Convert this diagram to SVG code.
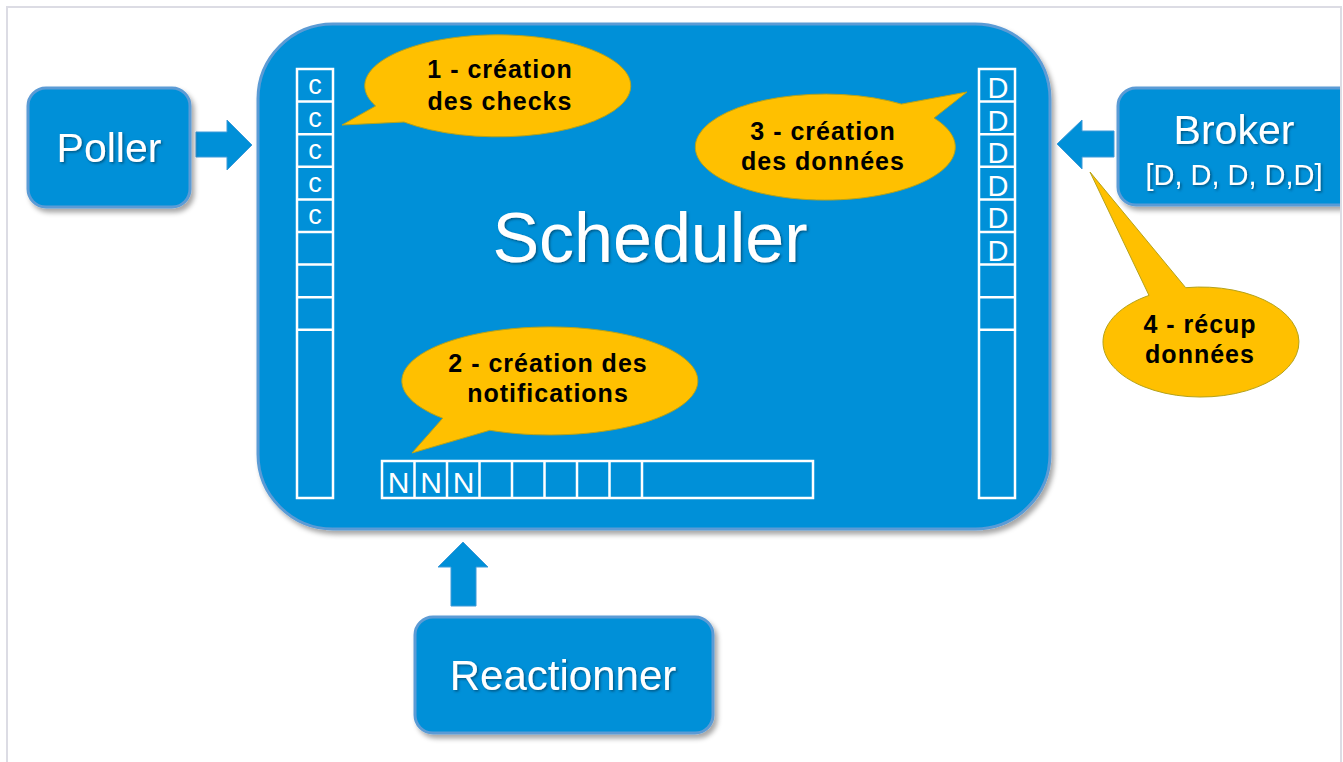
<svg xmlns="http://www.w3.org/2000/svg" width="1343" height="762" viewBox="0 0 1343 762">
<style>
.box{fill:#0090d8;stroke:#5b9bd5;stroke-width:3}
.lbl{font-family:"Liberation Sans",Arial,sans-serif;fill:#fff;text-anchor:middle}
.cell{fill:none;stroke:#fff;stroke-width:2.5}
.cl{font-family:"Liberation Sans",Arial,sans-serif;fill:#fff;text-anchor:middle}
.bub{fill:#ffc000;stroke:#b5a21a;stroke-width:1}
.bt{font-family:"Liberation Sans",Arial,sans-serif;font-weight:bold;font-size:25px;letter-spacing:1px;fill:#000;text-anchor:middle}
.arrow{fill:#0090d8;stroke:#3f9ad8;stroke-width:1}
</style>
<defs>
<filter id="sh" x="-10%" y="-10%" width="130%" height="130%">
<feDropShadow dx="3" dy="4" stdDeviation="2.5" flood-color="#000" flood-opacity="0.35"/>
</filter>
<filter id="tsh" x="-10%" y="-20%" width="130%" height="150%">
<feDropShadow dx="1.5" dy="1.5" stdDeviation="1" flood-color="#003050" flood-opacity="0.6"/>
</filter>
<clipPath id="frameclip"><rect x="0" y="0" width="1340" height="762"/></clipPath>
</defs>
<rect x="0" y="0" width="1343" height="762" fill="#fff"/>
<rect x="7" y="7" width="1334" height="770" fill="#fff" stroke="#dcdce4" stroke-width="2"/>

<g id="scheduler">
<rect class="box" x="258" y="24" width="792" height="505" rx="75" ry="75" filter="url(#sh)"/>
<text class="lbl" x="650" y="262" font-size="70" filter="url(#tsh)">Scheduler</text>
<g id="checks-queue">
<rect class="cell" x="297" y="69" width="36" height="429"/>
<path class="cell" d="M297 101.6H333M297 134.2H333M297 166.8H333M297 199.4H333M297 232H333M297 264.6H333M297 297.2H333M297 329.8H333"/>
<g class="cl" font-size="27">
<text x="315" y="94">c</text>
<text x="315" y="126.6">c</text>
<text x="315" y="159.2">c</text>
<text x="315" y="191.8">c</text>
<text x="315" y="224.4">c</text>
</g>
</g>
<g id="data-queue">
<rect class="cell" x="979" y="69" width="36" height="429"/>
<path class="cell" d="M979 101.6H1015M979 134.2H1015M979 166.8H1015M979 199.4H1015M979 232H1015M979 264.6H1015M979 297.2H1015M979 329.8H1015"/>
<g class="cl" font-size="29">
<text x="998" y="98">D</text>
<text x="998" y="130.6">D</text>
<text x="998" y="163.2">D</text>
<text x="998" y="195.8">D</text>
<text x="998" y="228.4">D</text>
<text x="998" y="261">D</text>
</g>
</g>
<g id="notif-queue">
<rect class="cell" x="382" y="461" width="431" height="37"/>
<path class="cell" d="M414.5 461V498M447 461V498M479.5 461V498M512 461V498M544.5 461V498M577 461V498M609.5 461V498M642 461V498"/>
<g class="cl" font-size="30">
<text x="398.5" y="493">N</text>
<text x="431" y="493">N</text>
<text x="463.5" y="493">N</text>
</g>
</g>
</g>

<g id="connectors">
<polygon class="arrow" points="196,132 227,132 227,120 252,145 227,170 227,157 196,157"/>
<polygon class="arrow" points="1114,131 1082,131 1082,120 1057,144 1082,169 1082,157 1114,157"/>
<polygon class="arrow" points="451,606 451,567 438,567 463,542 488,567 476,567 476,606"/>
</g>

<g id="poller">
<rect class="box" x="28" y="88" width="162" height="119" rx="18" filter="url(#sh)"/>
<text class="lbl" x="109" y="162" font-size="41" filter="url(#tsh)">Poller</text>
</g>

<g id="broker" clip-path="url(#frameclip)">
<rect class="box" x="1118" y="88" width="240" height="117" rx="18" filter="url(#sh)"/>
<text class="lbl" x="1234" y="144" font-size="41" filter="url(#tsh)">Broker</text>
<text class="lbl" x="1234" y="185" font-size="29" filter="url(#tsh)">[D, D, D, D,D]</text>
</g>

<g id="reactionner">
<rect class="box" x="415" y="617" width="298" height="116" rx="18" filter="url(#sh)"/>
<text class="lbl" x="563" y="690" font-size="42" filter="url(#tsh)">Reactionner</text>
</g>

<g id="bubble-1">
<path class="bub" d="M404 122 L342 125 L375.6 106 A133 51 0 1 1 404 122 Z"/>
<text class="bt" x="500" y="78">1 - création</text>
<text class="bt" x="500" y="110">des checks</text>
</g>

<g id="bubble-2">
<path class="bub" d="M489.8 430.3 L412 453 L442.7 418.2 A148 54 0 1 1 489.8 430.3 Z"/>
<text class="bt" x="548" y="372">2 - création des</text>
<text class="bt" x="548" y="402">notifications</text>
</g>

<g id="bubble-3">
<path class="bub" d="M901.4 104.1 L967 92 L934 118 A130 53 0 1 1 901.4 104.1 Z"/>
<text class="bt" x="823" y="140">3 - création</text>
<text class="bt" x="823" y="170">des données</text>
</g>

<g id="bubble-4">
<path class="bub" d="M1185.7 287.7 L1090 172 L1149 295.4 A98 55 0 1 0 1185.7 287.7 Z"/>
<text class="bt" x="1200" y="333">4 - récup</text>
<text class="bt" x="1200" y="363">données</text>
</g>
</svg>
